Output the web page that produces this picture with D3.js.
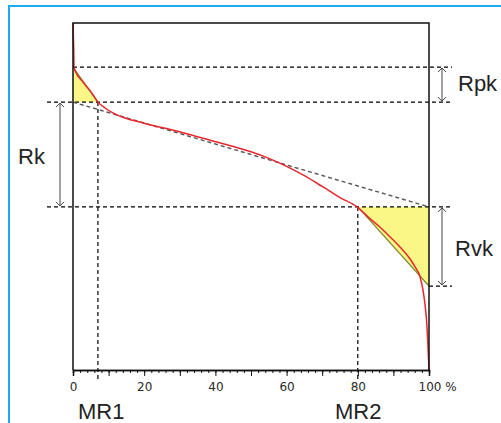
<!DOCTYPE html>
<html>
<head>
<meta charset="utf-8">
<script src="https://cdn.jsdelivr.net/npm/d3@7"></script>
<style>
  html, body { margin: 0; padding: 0; background: #fff; }
  svg { display: block; }
</style>
</head>
<body>
<svg id="chart" width="501" height="423"></svg>
<script>
// ---- Data (material ratio % vs. height, arbitrary units 0..100) ----
const curvePct = [0, 0.08, 0.2, 0.28, 0.7, 2.8, 5.3, 7.0, 9.0, 11.2, 14.6, 19.7, 30.1, 40.4, 45, 50, 55, 60, 65, 70, 75, 79.8, 83, 86.2, 89.0, 91.9, 94.7, 96.1, 97.5, 98.3, 98.9, 99.4, 99.7, 100];
const curveHeight = [100, 96.5, 92.2, 87.3, 86.0, 83.0, 79.8, 77.2, 75.5, 74.1, 72.6, 71.2, 68.6, 65.7, 64.4, 62.9, 61.0, 58.7, 56.0, 52.9, 49.7, 47.0, 44.0, 41.2, 38.4, 35.4, 32.0, 29.7, 26.8, 23.1, 18.7, 13.0, 7.2, 0];
const levelNames = ["RpkTop", "RkTop", "RkBottom", "RvkBottom"];
const levelValues = [87.3, 77.2, 47.0, 24.2];
const mrNames = ["MR1", "MR2"];
const mrValues = [7, 80];
const tickLabels = [0, 20, 40, 60, 80, 100];

// ---- Layout ----
const svg = d3.select("#chart");
const X0 = 73, X1 = 429, Y0 = 370, Y1 = 23;
const x = d3.scaleLinear().domain([0, 100]).range([X0, X1]);
const y = d3.scaleLinear().domain([0, 100]).range([Y0, Y1]);
const [rpkTop, rkTop, rkBot, rvkBot] = levelValues;
const [mr1, mr2] = mrValues;

svg.append("rect").attr("width", 501).attr("height", 423).attr("fill", "#fff");
// blue frame
svg.append("rect").attr("x", 9).attr("y", 6).attr("width", 520).attr("height", 440)
  .attr("fill", "none").attr("stroke", "#1eaaf1").attr("stroke-width", 2);

// arrow markers
const defs = svg.append("defs");
defs.append("marker").attr("id", "chev").attr("viewBox", "-6 -6 12 12")
  .attr("refX", 0).attr("refY", 0).attr("markerWidth", 12).attr("markerHeight", 12)
  .attr("markerUnits", "userSpaceOnUse").attr("orient", "auto-start-reverse")
  .append("path").attr("d", "M-4,-4 L0,0 L-4,4").attr("fill", "none")
  .attr("stroke", "#444").attr("stroke-width", 1);

// yellow triangles
const tri = d3.line().x(d => x(d[0])).y(d => y(d[1]));
svg.append("path").attr("d", tri([[0, rpkTop], [0, rkTop], [mr1, rkTop]]) + "Z")
  .attr("fill", "#fbf787").attr("stroke", "none");
svg.append("path").attr("d", tri([[mr2, rkBot], [100, rkBot], [100, rvkBot]]) + "Z")
  .attr("fill", "#fbf787").attr("stroke", "none");
// hypotenuses
svg.append("path").attr("d", tri([[0, rpkTop], [mr1, rkTop]]))
  .attr("fill", "none").attr("stroke", "#7a8a2a").attr("stroke-width", 1.2);
svg.append("path").attr("d", tri([[mr2, rkBot], [100, rvkBot]]))
  .attr("fill", "none").attr("stroke", "#7a8a2a").attr("stroke-width", 1.2);

// dashed reference lines
const dash = "4,3";
function hline(v, xa, xb) {
  svg.append("line").attr("x1", xa).attr("x2", xb).attr("y1", y(v)).attr("y2", y(v))
    .attr("stroke", "#000").attr("stroke-width", 1.2).attr("stroke-dasharray", dash);
}
hline(rpkTop, X0, 452);
hline(rkTop, 47, 452);
hline(rkBot, 47, 452);
hline(rvkBot, X1, 452);
function vline(v, ya, yb) {
  svg.append("line").attr("x1", x(v)).attr("x2", x(v)).attr("y1", ya).attr("y2", yb)
    .attr("stroke", "#000").attr("stroke-width", 1.2).attr("stroke-dasharray", dash);
}
vline(mr1, y(rkTop), 382);
vline(mr2, y(rkBot), 382);

// equivalent straight line (secant)
svg.append("path").attr("d", tri([[0, rkTop], [100, rkBot]]))
  .attr("fill", "none").attr("stroke", "#555").attr("stroke-width", 1.4)
  .attr("stroke-dasharray", "4,3");

// Abbott curve
const line = d3.line().x((d, i) => x(curvePct[i])).y((d, i) => y(curveHeight[i]))
  .curve(d3.curveMonotoneX);
svg.append("path").datum(curvePct).attr("d", line)
  .attr("fill", "none").attr("stroke", "#e8262c").attr("stroke-width", 1.5);

// frame
svg.append("path").attr("d", `M${X0},${Y0}V${Y1}H${X1}V${Y0}`)
  .attr("fill", "none").attr("stroke", "#111").attr("stroke-width", 1.5);

// x axis: minor and major ticks
const minor = d3.axisBottom(x).tickValues(d3.range(0, 101, 2)).tickSize(3).tickFormat("");
const major = d3.axisBottom(x).tickValues(d3.range(0, 101, 10)).tickSize(6).tickPadding(6)
  .tickFormat(d => tickLabels.includes(d) ? (d === 100 ? "100 %" : d) : "");
const gMinor = svg.append("g").attr("transform", `translate(0,${Y0})`).call(minor);
const gMajor = svg.append("g").attr("transform", `translate(0,${Y0})`).call(major);
[gMinor, gMajor].forEach(g => {
  g.select(".domain").attr("stroke", "#111").attr("stroke-width", 1.5);
  g.selectAll(".tick line").attr("stroke", "#111");
});
gMajor.selectAll(".tick text").attr("fill", "#2a2a2a")
  .style("font-family", "'DejaVu Sans', Verdana, sans-serif").style("font-size", "12px");
gMajor.selectAll(".tick text").filter(d => d === 100)
  .attr("text-anchor", "start").attr("dx", -11);

// double arrows
function arrow(xp, ya, yb) {
  svg.append("line").attr("x1", xp).attr("x2", xp).attr("y1", ya).attr("y2", yb)
    .attr("stroke", "#444").attr("stroke-width", 1)
    .attr("marker-start", "url(#chev)").attr("marker-end", "url(#chev)");
}
arrow(442, y(rpkTop) + 1, y(rkTop) - 1);
arrow(60, y(rkTop) + 1, y(rkBot) - 1);
arrow(442, y(rkBot) + 1, y(rvkBot) - 1);

// labels
const lab = (t, xp, yp) => svg.append("text").attr("x", xp).attr("y", yp).text(t)
  .attr("fill", "#222").style("font-family", "'Liberation Sans', Arial, sans-serif")
  .style("font-size", "22px");
lab("Rpk", 458, 91);
lab("Rk", 18, 164);
lab("Rvk", 455, 256);
lab(mrNames[0], 78, 419);
lab(mrNames[1], 335, 419);
</script>
</body>
</html>
